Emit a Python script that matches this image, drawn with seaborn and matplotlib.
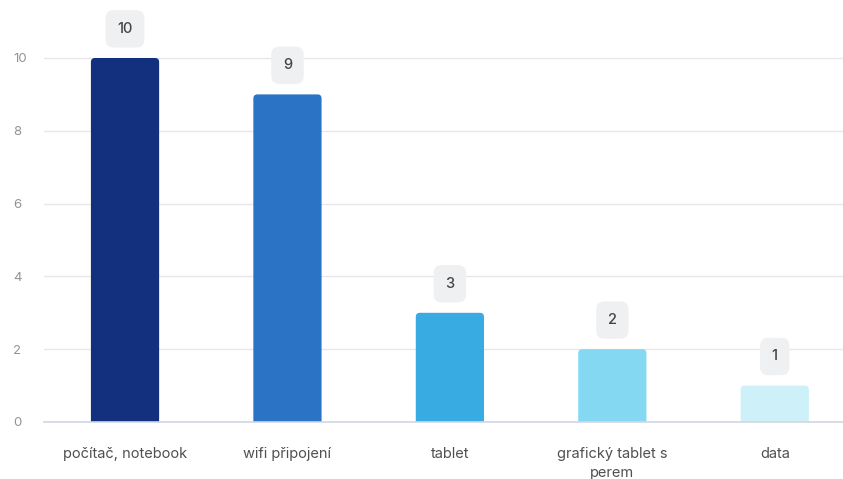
import matplotlib
matplotlib.use("Agg")
import matplotlib.pyplot as plt
import seaborn as sns
import pandas as pd
from matplotlib.patches import FancyBboxPatch

categories = ["počítač, notebook", "wifi připojení", "tablet", "grafický tablet s\nperem", "data"]
values = [10, 9, 3, 2, 1]
colors = ["#13307f", "#2b73c4", "#38abe3", "#84d8f2", "#cdf0f9"]

sns.set_theme(style="white")
plt.rcParams["font.family"] = ["Inter", "DejaVu Sans"]

df = pd.DataFrame({"cat": categories, "val": values})

fig = plt.figure(figsize=(8.43, 4.79), dpi=100)
ax = fig.add_axes([43.8 / 843, 57 / 479, (843 - 43.8) / 843, (422 - 3.4) / 479])

sns.barplot(data=df, x="cat", y="val", hue="cat", palette=colors, width=0.42,
            legend=False, ax=ax, saturation=1)

ax.set_xlim(-0.5, 4.42)
ax.set_ylim(0, 11.5)

# replace rectangles with rounded-top bars
aspect = 4.46
for p in list(ax.patches):
    x, w, h = p.get_x(), p.get_width(), p.get_height()
    fc = p.get_facecolor()
    p.set_visible(False)
    r = 0.025
    fb = FancyBboxPatch((x, -0.3), w, h + 0.3,
                        boxstyle=f"round,pad=0,rounding_size={r}",
                        mutation_aspect=aspect, facecolor=fc, edgecolor="none",
                        zorder=2, clip_on=True)
    ax.add_patch(fb)
    ax.text(x + w / 2, h + 0.8, f"{int(h)}", ha="center", va="center",
            fontsize=10.5, fontweight="medium", color="#444444", zorder=4,
            bbox=dict(boxstyle="round,pad=0.8,rounding_size=0.55",
                      facecolor="#eff0f2", edgecolor="none"))

ax.set_yticks([0, 2, 4, 6, 8, 10])
ax.yaxis.grid(True, color="#e6e7ea", linewidth=1)
ax.set_axisbelow(True)
for s in ["top", "right", "left"]:
    ax.spines[s].set_visible(False)
ax.spines["bottom"].set_color("#d3d6e2")
ax.spines["bottom"].set_linewidth(1.2)
ax.tick_params(axis="y", length=0, pad=22, labelsize=9.5, labelcolor="#939393")
ax.tick_params(axis="x", length=0, pad=18, labelsize=10.5, labelcolor="#505050")
for lbl in ax.get_yticklabels():
    lbl.set_horizontalalignment("left")
for lbl in ax.get_xticklabels():
    lbl.set_linespacing(1.45)
ax.set_xlabel("")
ax.set_ylabel("")

fig.savefig("out.png", dpi=100)
